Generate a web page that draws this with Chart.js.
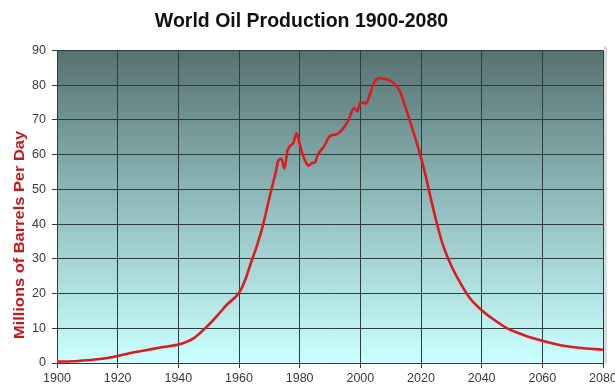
<!DOCTYPE html>
<html>
<head>
<meta charset="utf-8">
<script src="https://cdn.jsdelivr.net/npm/chart.js@4.4.1/dist/chart.umd.min.js"></script>
<style>
  html, body { margin: 0; padding: 0; background: #ffffff; overflow: hidden; width: 615px; height: 388px; }
  canvas { display: block; }
</style>
</head>
<body>
<canvas id="chart" width="630" height="388"></canvas>
<script>
// World oil production, millions of barrels per day
const years = [1900, 1905, 1910, 1915, 1920, 1925, 1930, 1935, 1940, 1945,
  1950, 1953, 1956, 1960, 1962, 1964, 1966, 1968, 1970, 1972,
  1973, 1974, 1975, 1976, 1978, 1979, 1980, 1981, 1982, 1983,
  1984, 1985, 1986, 1988, 1990, 1992, 1994, 1996, 1998, 1999,
  2000, 2002, 2003, 2004, 2005, 2006, 2008, 2010, 2011, 2013,
  2015, 2017, 2019, 2021, 2023, 2025, 2027, 2030, 2033, 2036,
  2040, 2044, 2048, 2054, 2060, 2066, 2072, 2080];
const production = [0.4, 0.5, 0.8, 1.2, 2.0, 3.0, 3.8, 4.6, 5.3, 7.1,
  11.0, 13.8, 16.8, 20.2, 23.8, 29.0, 34.0, 40.0, 47.5, 54.5,
  58.3, 58.8, 56.0, 61.2, 63.5, 66.2, 63.0, 60.0, 57.8, 56.8,
  57.6, 57.7, 60.0, 62.3, 65.4, 65.8, 67.2, 69.8, 73.4, 72.5,
  75.0, 74.8, 77.0, 79.5, 81.4, 82.0, 81.8, 81.2, 80.6, 78.3,
  73.3, 67.8, 62.2, 55.8, 48.3, 41.0, 34.6, 28.0, 23.0, 18.8,
  15.2, 12.5, 10.2, 8.0, 6.4, 5.1, 4.4, 3.8];

const xMin = 1900, xMax = 2080, xStep = 20;
const yMin = 0, yMax = 90, yStep = 10;

const titleText = 'World Oil Production 1900-2080';
const yTitleText = 'Millions of Barrels Per Day';

// Slate-to-cyan gradient behind the plot area
const plotBackground = {
  id: 'plotBackground',
  beforeDraw(chart) {
    const { ctx, chartArea: a } = chart;
    const g = ctx.createLinearGradient(0, a.top, 0, a.bottom);
    g.addColorStop(0, '#577170');
    g.addColorStop(0.5, '#92bebf');
    g.addColorStop(1, '#cbffff');
    ctx.save();
    ctx.fillStyle = g;
    ctx.fillRect(a.left, a.top, a.right - a.left, a.bottom - a.top);
    ctx.fillStyle = '#d8dcdc';
    ctx.fillRect(a.right + 1, a.top - 4, 3, a.bottom - a.top + 4);
    ctx.restore();
  }
};

// Rotated red axis caption on the left
const yCaption = {
  id: 'yCaption',
  afterDraw(chart) {
    const { ctx } = chart;
    ctx.save();
    ctx.translate(19.5, 235);
    ctx.rotate(-Math.PI / 2);
    ctx.scale(1.06, 1);
    ctx.font = 'bold 15.5px "Liberation Sans", Arial, sans-serif';
    ctx.fillStyle = '#c4181c';
    ctx.textAlign = 'center';
    ctx.textBaseline = 'middle';
    ctx.fillText(yTitleText, 0, 0);
    ctx.restore();
  }
};

const tickFont = { family: '"Liberation Sans", Arial, sans-serif', size: 12.5 };

new Chart(document.getElementById('chart'), {
  type: 'line',
  data: {
    datasets: [{
      data: years.map((y, i) => ({ x: y, y: production[i] })),
      borderColor: '#e01a1c',
      borderWidth: 2.6,
      pointRadius: 0,
      cubicInterpolationMode: 'monotone',
      fill: false
    }]
  },
  options: {
    responsive: false,
    animation: false,
    layout: { padding: { left: 0, right: 27, top: 0, bottom: 0 } },
    plugins: {
      legend: { display: false },
      tooltip: { enabled: false },
      title: {
        display: true,
        text: titleText,
        color: '#111111',
        font: { family: '"Liberation Sans", Arial, sans-serif', size: 19.5, weight: 'bold' },
        padding: { top: 10, bottom: 17 }
      }
    },
    scales: {
      x: {
        type: 'linear',
        min: xMin, max: xMax,
        afterFit(scale) { scale.height = 25; },
        ticks: { stepSize: xStep, color: '#3a3a3a', font: tickFont, padding: 3, maxRotation: 0,
          callback: v => String(v) },
        grid: { color: '#2c3b3c', lineWidth: 1, tickLength: 5, drawTicks: true },
        border: { color: '#2c3b3c' }
      },
      y: {
        min: yMin, max: yMax,
        afterFit(scale) { scale.width = 57; },
        ticks: { stepSize: yStep, color: '#3a3a3a', font: tickFont, padding: 6 },
        grid: { color: '#2c3b3c', lineWidth: 1, tickLength: 5 },
        border: { color: '#2c3b3c' }
      }
    }
  },
  plugins: [plotBackground, yCaption]
});
</script>
</body>
</html>
